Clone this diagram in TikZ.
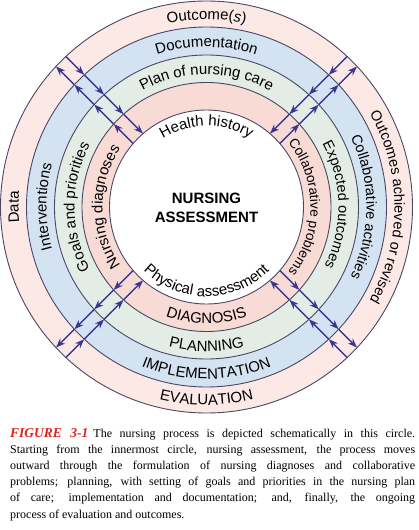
\documentclass[tikz,border=0pt]{standalone}
\usepackage{fontspec}
\setmainfont{Liberation Serif}
\newfontfamily\sansfam{Liberation Sans}
\usetikzlibrary{decorations.text,arrows.meta,calc}
\definecolor{evalc}{HTML}{FCE9E5}
\definecolor{implc}{HTML}{D4E3F1}
\definecolor{planc}{HTML}{E3EDE5}
\definecolor{diagc}{HTML}{F9DBD5}
\definecolor{ringc}{HTML}{4A4766}
\definecolor{arrc}{HTML}{3B3790}
\definecolor{figred}{HTML}{E0201B}
\newcommand\arclab{\sansfam\fontsize{15}{18}\selectfont}
\newcommand\arclabs{\sansfam\fontsize{14.5}{18}\selectfont}
\newcommand\arclabt{\sansfam\fontsize{13.6}{18}\selectfont}
\newcommand\arctext[4]{\path[decorate,decoration={text along path,text align=center,text={|\arclab|#4}}] (#1:#3) arc[start angle=#1,end angle=#2,radius=#3];}
\newcommand\arctexts[4]{\path[decorate,decoration={text along path,text align=center,text={|\arclabs|#4}}] (#1:#3) arc[start angle=#1,end angle=#2,radius=#3];}
\newcommand\arctextt[4]{\path[decorate,decoration={text along path,text align=center,text={|\arclabt|#4}}] (#1:#3) arc[start angle=#1,end angle=#2,radius=#3];}
\begin{document}
\begin{tikzpicture}[x=1pt,y=1pt,
  ring/.style={draw=ringc,line width=0.9pt},
  arr/.style={draw=arrc,line width=1.35pt,-{Stealth[length=9.5pt,width=7pt]}},
  centertext/.style={font=\sansfam\bfseries\fontsize{15}{18}\selectfont,anchor=base,inner sep=0pt}]
\useasboundingbox (-206.5,-323) rectangle (211.5,207);
\fill[white] (-206.5,-323) rectangle (211.5,207);
% bands
\fill[evalc] (0,0) circle[radius=206];
\fill[implc] (0,0) circle[radius=180];
\fill[planc] (0,0) circle[radius=152];
\fill[diagc] (0,0) circle[radius=124.5];
\fill[white] (0,0) circle[radius=97];
\foreach \r in {206,180,152,124.5,97} \draw[ring] (0,0) circle[radius=\r];
% top labels
\arctext{180}{0}{187.5}{Outcome(|\arclab\itshape|s|\arclab|)}
\arctext{180}{0}{160}{Documentation}
\arctext{180}{0}{132.5}{Plan of nursing care}
\arctext{180}{0}{81}{Health history}
% bottom labels
\arctext{180}{360}{198}{EVALUATION}
\arctext{180}{360}{172}{IMPLEMENTATION}
\arctext{180}{360}{144.5}{PLANNING}
\arctext{180}{360}{116.5}{DIAGNOSIS}
\arctext{180}{360}{89.5}{Physical assessment}
% left labels
\arctext{270}{90}{188}{Data}
\arctext{270}{90}{160}{Interventions}
\arctext{270}{90}{132}{Goals and priorities}
\arctext{270}{90}{104}{Nursing diagnoses}
% right labels
\arctextt{90}{-90}{104}{Collaborative problems}
\arctexts{91}{-89}{132}{Expected outcomes}
\arctexts{90}{-90}{160}{Collaborative activities}
\arctexts{90}{-90}{188}{Outcomes achieved or revised}
% center
\node[centertext] (nurs) at (0,4) {NURSING};
\node[centertext] (assess) at (0,-15) {ASSESSMENT};
% arrows
\foreach \t/\s [count=\i] in {45/1,135/-1,225/1,315/-1}{
  \foreach \r [count=\k] in {97,124.5,152,180,206}{
    \coordinate (in\i-\k) at ($(\t:{10*sqrt((\r/10)^2-0.49)})+(\t+90:{7*\s})$);
    \coordinate (out\i-\k) at ($(\t:{10*sqrt((\r/10)^2-0.49)})+(\t+90:{-7*\s})$);
  }
  \foreach \k/\kk in {1/2,2/3,3/4,4/5}{
    \draw[arr] (in\i-\kk) -- (in\i-\k);
    \draw[arr] (out\i-\k) -- (out\i-\kk);
  }
}
% caption
\node[anchor=north west,inner sep=0pt,text width=405pt,align=justify,font=\fontsize{12}{16.2}\selectfont] (cap) at (-196.5,-221)
{{\color{figred}\bfseries\itshape\fontsize{13.5}{16.2}\selectfont FIGURE 3-1}\hspace{5pt}The nursing process is depicted schematically in this circle.\linebreak Starting from the innermost circle, nursing assessment, the process moves\linebreak outward through the formulation of nursing diagnoses and collaborative\linebreak problems; planning, with setting of goals and priorities in the nursing plan\linebreak of care; implementation and documentation; and, finally, the ongoing\linebreak process of evaluation and outcomes.};
\end{tikzpicture}
\end{document}
